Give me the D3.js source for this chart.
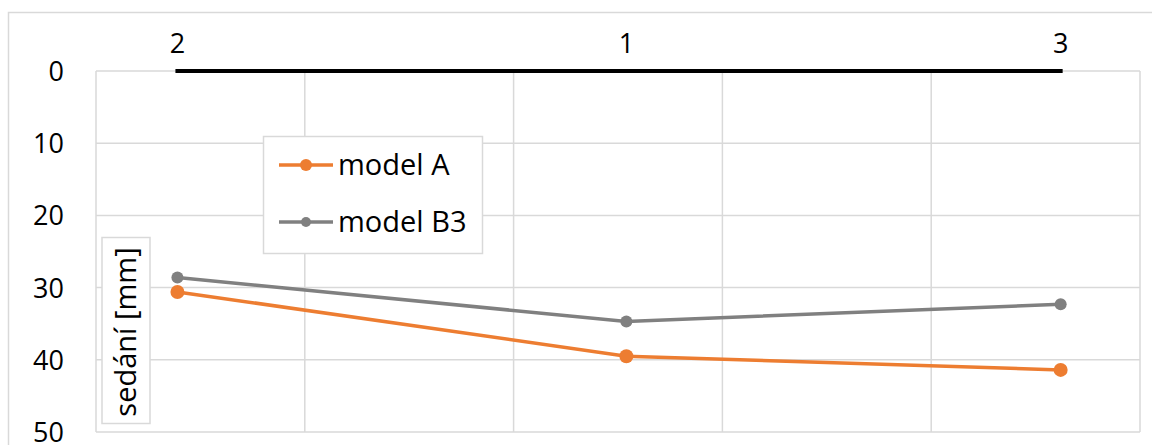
<!DOCTYPE html>
<html><head><meta charset="utf-8">
<script src="https://cdn.jsdelivr.net/npm/d3@7"></script>
<style>body{margin:0;background:#fff}svg{display:block;font-family:"Open Sans","Noto Sans",sans-serif}</style>
</head><body><svg id="c" width="1152" height="445"></svg>
<script>
const pointLabels = ["2", "1", "3"];
const xPositions = [3.9, 25.4, 46.2];
const seriesNames = ["model A", "model B3"];
const modelA = [30.6, 39.5, 41.4];
const modelB3 = [28.6, 34.7, 32.3];
const yTicks = [0, 10, 20, 30, 40, 50];
const xGrid = [0, 10, 20, 30, 40, 50];
const colors = ["#ed7d31", "#808080"];
const FS = 27, FS2 = 29;

const svg = d3.select("#c");
const x = d3.scaleLinear().domain([0, 50]).range([96, 1140]);
const y = d3.scaleLinear().domain([0, 50]).range([71, 432]);

// outer chart border
svg.append("rect").attr("x", 8.5).attr("y", 12.5).attr("width", 1200).attr("height", 500)
  .attr("fill", "none").attr("stroke", "#d9d9d9").attr("stroke-width", 1.5);

// gridlines
svg.append("g").selectAll("line").data(yTicks).join("line")
  .attr("x1", x(0)).attr("x2", x(50)).attr("y1", d => y(d)).attr("y2", d => y(d))
  .attr("stroke", "#d9d9d9").attr("stroke-width", 1.5);
svg.append("g").selectAll("line").data(xGrid).join("line")
  .attr("y1", y(0)).attr("y2", y(50)).attr("x1", d => x(d)).attr("x2", d => x(d))
  .attr("stroke", "#d9d9d9").attr("stroke-width", 1.5);

// y axis labels
const yAxis = d3.axisLeft(y).tickValues(yTicks).tickSize(0).tickPadding(0);
const ya = svg.append("g").attr("transform", "translate(64,0)").call(yAxis);
ya.select(".domain").remove();
ya.selectAll("text").attr("font-size", FS).attr("fill", "#000").attr("font-family", "Open Sans").attr("dy", "0.35em");

// black ground line
svg.append("line").attr("x1", x(xPositions[0]) - 2).attr("x2", x(xPositions[2]) + 2)
  .attr("y1", y(0)).attr("y2", y(0)).attr("stroke", "#000").attr("stroke-width", 4);

// top point labels
svg.append("g").selectAll("text").data(pointLabels).join("text")
  .attr("x", (d, i) => x(xPositions[i])).attr("y", 53).attr("text-anchor", "middle")
  .attr("font-size", FS).attr("fill", "#000").text(d => d);

// series
const line = d3.line().x((d, i) => x(xPositions[i])).y(d => y(d));
[modelA, modelB3].forEach((s, k) => {
  const g = svg.append("g");
  g.append("path").datum(s).attr("d", line).attr("fill", "none")
    .attr("stroke", colors[k]).attr("stroke-width", 3.5);
  g.selectAll("circle").data(s).join("circle")
    .attr("cx", (d, i) => x(xPositions[i])).attr("cy", d => y(d)).attr("r", k === 0 ? 7 : 6)
    .attr("fill", colors[k]);
});

// legend
const lg = svg.append("g");
lg.append("rect").attr("x", 263.5).attr("y", 136.5).attr("width", 219).attr("height", 117)
  .attr("fill", "#fff").attr("stroke", "#d9d9d9").attr("stroke-width", 1.5);
seriesNames.forEach((n, k) => {
  const cy = 165 + k * 57;
  lg.append("line").attr("x1", 279).attr("x2", 333).attr("y1", cy).attr("y2", cy)
    .attr("stroke", colors[k]).attr("stroke-width", 3.5);
  lg.append("circle").attr("cx", 306).attr("cy", cy).attr("r", k === 0 ? 6 : 5).attr("fill", colors[k]);
  lg.append("text").attr("x", 338).attr("y", cy).attr("dy", "0.35em").attr("font-size", FS2)
    .attr("fill", "#000").text(n);
});

// y axis title in box
svg.append("rect").attr("x", 102).attr("y", 237.5).attr("width", 48).attr("height", 186)
  .attr("fill", "#fff").attr("stroke", "#d9d9d9").attr("stroke-width", 1.5);
svg.append("text").attr("transform", "translate(126,332) rotate(-90)")
  .attr("text-anchor", "middle").attr("dy", "0.35em").attr("font-size", FS2).attr("fill", "#000")
  .text("sedání [mm]");
</script></body></html>
